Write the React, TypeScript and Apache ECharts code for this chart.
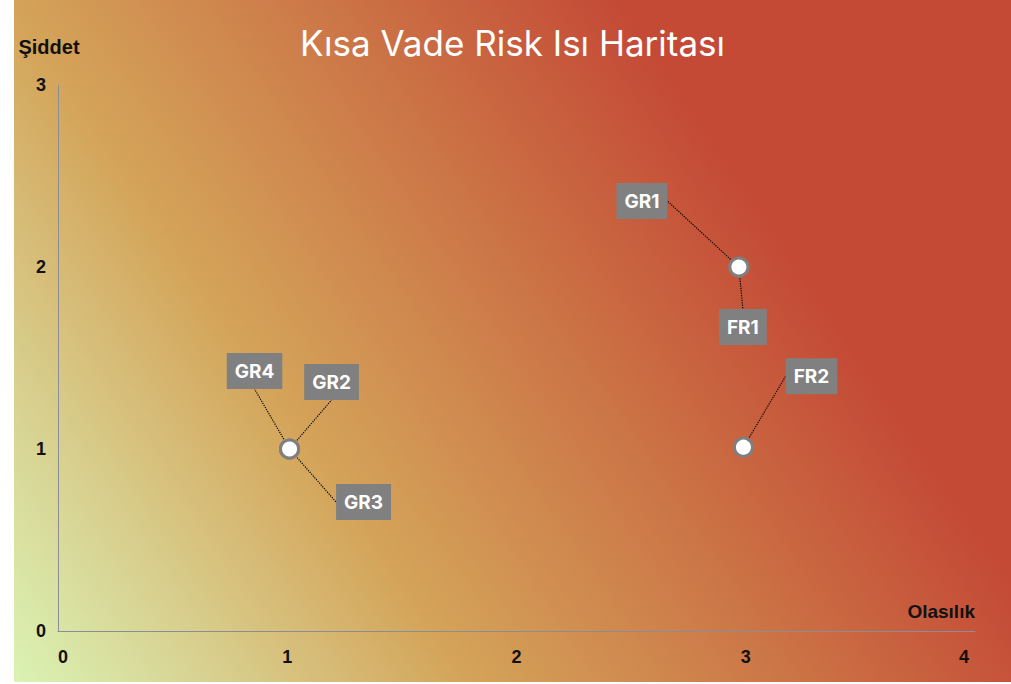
import React, { useEffect, useRef } from "react";
import * as echarts from "echarts";

// ---- data ----
const riskNames = ["GR1", "GR2", "GR3", "GR4", "FR1", "FR2"];
const probability = [2.97, 1.01, 1.01, 1.01, 2.97, 2.99]; // Olasılık
const severity = [2.0, 1.0, 1.0, 1.0, 2.0, 1.01]; // Şiddet
const xTicks = [0, 1, 2, 3, 4];
const yTicks = [0, 1, 2, 3];

// label box offsets from their point (layout only)
const labelOffsets: [number, number][] = [
  [-97, -66],
  [42, -67],
  [74, 53],
  [-35, -78],
  [4, 60],
  [68, -71],
];

export default function App() {
  const ref = useRef<HTMLDivElement>(null);
  useEffect(() => {
    if (!ref.current) return;
    const chart = echarts.init(ref.current, null, { renderer: "svg" });
    const tickFont = {
      color: "#111",
      fontWeight: "bold" as const,
      fontSize: 18,
      fontFamily: "Liberation Sans, Arial, sans-serif",
    };
    const xMax = xTicks[xTicks.length - 1];
    chart.setOption({
      animation: false,
      backgroundColor: "transparent",
      title: {
        text: "Kısa Vade Risk Isı Haritası",
        left: "center",
        top: 20,
        padding: [5, 0, 5, 10],
        textStyle: {
          color: "#ffffff",
          fontSize: 35,
          fontWeight: "normal",
          fontFamily: "Inter, sans-serif",
        },
      },
      grid: { left: 44, right: 36, top: 85, bottom: 51, containLabel: false },
      xAxis: {
        type: "value",
        min: xTicks[0],
        max: xMax,
        interval: 1,
        name: "Olasılık",
        nameLocation: "end",
        nameGap: 0,
        nameTextStyle: {
          ...tickFont,
          fontSize: 19,
          align: "right",
          verticalAlign: "bottom",
          padding: [0, 0, 10, 0],
        },
        axisLine: { show: true, lineStyle: { color: "#8a8c96", width: 1 } },
        axisTick: { show: false },
        splitLine: { show: false },
        axisLabel: {
          ...tickFont,
          margin: 17,
          alignMinLabel: "left",
          alignMaxLabel: "right",
          formatter: (v: number) => (v === xMax ? `{last|${v}}` : `${v}`),
          rich: { last: { ...tickFont, padding: [0, 6, 0, 0] } },
        },
      },
      yAxis: {
        type: "value",
        min: yTicks[0],
        max: yTicks[yTicks.length - 1],
        interval: 1,
        name: "Şiddet",
        nameLocation: "end",
        nameGap: 28,
        nameTextStyle: {
          ...tickFont,
          fontSize: 20,
          align: "center",
          padding: [0, 18, 0, 0],
        },
        axisLine: { show: true, lineStyle: { color: "#8a8c96", width: 1 } },
        axisTick: { show: false },
        splitLine: { show: false },
        axisLabel: { ...tickFont, margin: 12 },
      },
      series: [
        {
          type: "scatter",
          symbol: "circle",
          symbolSize: 18,
          itemStyle: { color: "#ffffff", borderColor: "#7f7f7f", borderWidth: 3, opacity: 1 },
          data: riskNames.map((n, i) => ({ name: n, value: [probability[i], severity[i]] })),
          label: {
            show: true,
            position: "inside",
            formatter: "{b}",
            color: "#ffffff",
            fontWeight: "bold",
            fontSize: 19,
            fontFamily: "Inter, sans-serif",
            backgroundColor: "#808080",
            padding: [9, 8, 8, 8],
          },
          labelLayout: (p: any) => ({
            dx: labelOffsets[p.dataIndex][0],
            dy: labelOffsets[p.dataIndex][1],
          }),
          labelLine: {
            show: true,
            lineStyle: { color: "#000", width: 1.2, type: "dotted" },
          },
          emphasis: { disabled: true },
        },
      ],
    });
    return () => chart.dispose();
  }, []);

  return (
    <div
      style={{
        position: "absolute",
        left: 14,
        top: 0,
        width: 997,
        height: 682,
        background:
          "linear-gradient(56deg, #daf3b4 0%, #d8d08f 14%, #d4a45a 31%, #cd7c49 50%, #c44a36 73%, #c44a36 100%)",
      }}
    >
      <div ref={ref} style={{ width: 997, height: 682 }} />
    </div>
  );
}
